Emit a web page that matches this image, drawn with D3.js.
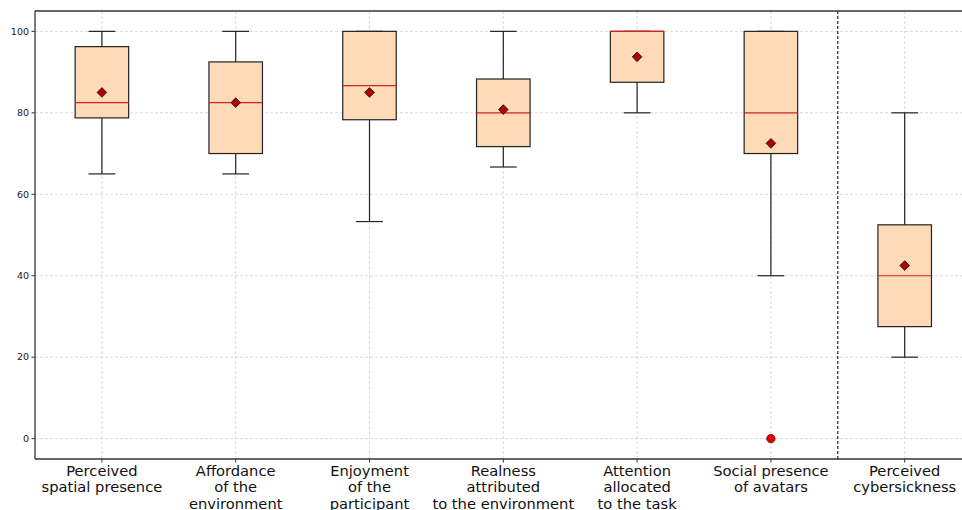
<!DOCTYPE html>
<meta charset="utf-8">
<head>
<style>
  body { margin: 0; background: #fff; }
  svg { font-family: "DejaVu Sans", sans-serif; }
  .grid line { stroke: #d0d0d0; stroke-dasharray: 3,2; stroke-width: 0.8; }
  .ytick text { font-size: 9.5px; fill: #222; }
  .xlab text { font-size: 14.7px; fill: #111; }
</style>
</head>
<body>
<script src="https://d3js.org/d3.v7.min.js"></script>
<script>

// chart values
var categories = [
  ["Perceived", "spatial presence"],
  ["Affordance", "of the", "environment"],
  ["Enjoyment", "of the", "participant"],
  ["Realness", "attributed", "to the environment"],
  ["Attention", "allocated", "to the task"],
  ["Social presence", "of avatars"],
  ["Perceived", "cybersickness"]
];
var whiskerLow  = [65, 65, 53.3, 66.7, 80, 40, 20];
var q1          = [78.75, 70, 78.3, 71.7, 87.5, 70, 27.5];
var medians     = [82.5, 82.5, 86.7, 80, 100, 80, 40];
var q3          = [96.25, 92.5, 100, 88.3, 100, 100, 52.5];
var whiskerHigh = [100, 100, 100, 100, 100, 100, 80];
var means       = [85, 82.5, 85, 80.8, 93.75, 72.5, 42.5];
var outliers    = [[], [], [], [], [], [0], []];
var yTicks      = [0, 20, 40, 60, 80, 100];

var width = 962, height = 510;
var margin = {left: 35, top: 11, bottom: 459};
var unit = 133.8;

var svg = d3.select("body").append("svg")
    .attr("width", width)
    .attr("height", height);

var x = d3.scaleLinear().domain([0.5, 7.5]).range([margin.left, margin.left + 7 * unit]);
var y = d3.scaleLinear().domain([-5, 105]).range([margin.bottom, margin.top]);

var idx = d3.range(categories.length);
var boxW = x(1.2) - x(1);    // half width of a box
var capW = boxW / 2;

// grid
var grid = svg.append("g").attr("class", "grid");
grid.selectAll(".gy").data(yTicks).enter().append("line")
    .attr("x1", margin.left).attr("x2", width)
    .attr("y1", function(d) { return y(d); })
    .attr("y2", function(d) { return y(d); });
grid.selectAll(".gx").data(idx).enter().append("line")
    .attr("x1", function(i) { return x(i + 1); })
    .attr("x2", function(i) { return x(i + 1); })
    .attr("y1", margin.top).attr("y2", margin.bottom);

// separator between questionnaires
svg.append("line")
    .attr("x1", x(6.5)).attr("x2", x(6.5))
    .attr("y1", margin.top).attr("y2", margin.bottom)
    .attr("stroke", "#111")
    .attr("stroke-width", 1.1)
    .attr("stroke-dasharray", "3,2");

var boxes = svg.selectAll(".box").data(idx).enter().append("g").attr("class", "box");

// whiskers
boxes.append("line")
    .attr("x1", function(i) { return x(i + 1); })
    .attr("x2", function(i) { return x(i + 1); })
    .attr("y1", function(i) { return y(whiskerLow[i]); })
    .attr("y2", function(i) { return y(q1[i]); })
    .attr("stroke", "#222").attr("stroke-width", 1.2);
boxes.append("line")
    .attr("x1", function(i) { return x(i + 1); })
    .attr("x2", function(i) { return x(i + 1); })
    .attr("y1", function(i) { return y(q3[i]); })
    .attr("y2", function(i) { return y(whiskerHigh[i]); })
    .attr("stroke", "#222").attr("stroke-width", 1.2);
// caps
[whiskerLow, whiskerHigh].forEach(function(arr) {
  boxes.append("line")
      .attr("x1", function(i) { return x(i + 1) - capW; })
      .attr("x2", function(i) { return x(i + 1) + capW; })
      .attr("y1", function(i) { return y(arr[i]); })
      .attr("y2", function(i) { return y(arr[i]); })
      .attr("stroke", "#222").attr("stroke-width", 1.2);
});

// boxes
boxes.append("rect")
    .attr("x", function(i) { return x(i + 1) - boxW; })
    .attr("y", function(i) { return y(q3[i]); })
    .attr("width", 2 * boxW)
    .attr("height", function(i) { return y(q1[i]) - y(q3[i]); })
    .attr("fill", "#ffdab9")
    .attr("stroke", "#222")
    .attr("stroke-width", 1.2);

// medians
boxes.append("line")
    .attr("x1", function(i) { return x(i + 1) - boxW; })
    .attr("x2", function(i) { return x(i + 1) + boxW; })
    .attr("y1", function(i) { return y(medians[i]); })
    .attr("y2", function(i) { return y(medians[i]); })
    .attr("stroke", "#d62020").attr("stroke-width", 1.2);

// means
boxes.append("path")
    .attr("d", d3.symbol().type(d3.symbolDiamond2).size(60))
    .attr("transform", function(i) { return "translate(" + x(i + 1) + "," + y(means[i]) + ")"; })
    .attr("fill", "#b00000")
    .attr("stroke", "#111")
    .attr("stroke-width", 0.8);

// outliers
boxes.each(function(i) {
  d3.select(this).selectAll(".flier").data(outliers[i]).enter().append("circle")
      .attr("cx", x(i + 1))
      .attr("cy", function(d) { return y(d); })
      .attr("r", 4.2)
      .attr("fill", "#e00000")
      .attr("stroke", "#700")
      .attr("stroke-width", 0.8);
});

// spines
svg.append("line").attr("x1", margin.left).attr("x2", margin.left)
    .attr("y1", margin.top).attr("y2", margin.bottom)
    .attr("stroke", "#333").attr("stroke-width", 1.3);
svg.append("line").attr("x1", margin.left).attr("x2", width)
    .attr("y1", margin.top).attr("y2", margin.top)
    .attr("stroke", "#333").attr("stroke-width", 1.3);
svg.append("line").attr("x1", margin.left).attr("x2", width)
    .attr("y1", margin.bottom).attr("y2", margin.bottom)
    .attr("stroke", "#333").attr("stroke-width", 1.3);

// y ticks
var yt = svg.selectAll(".ytick").data(yTicks).enter().append("g")
    .attr("class", "ytick")
    .attr("transform", function(d) { return "translate(" + margin.left + "," + y(d) + ")"; });
yt.append("line").attr("x1", -3.5).attr("x2", 0).attr("stroke", "#333");
yt.append("text").attr("x", -6).attr("dy", "0.34em").attr("text-anchor", "end")
    .text(function(d) { return d; });

// x ticks + labels
var xl = svg.selectAll(".xlab").data(idx).enter().append("g")
    .attr("class", "xlab")
    .attr("transform", function(i) { return "translate(" + x(i + 1) + "," + margin.bottom + ")"; });
xl.append("line").attr("y1", 0).attr("y2", 3.5).attr("stroke", "#333");
xl.append("text").attr("text-anchor", "middle")
  .selectAll("tspan").data(function(i) { return categories[i]; }).enter().append("tspan")
    .attr("x", 0)
    .attr("y", function(d, k) { return 17 + k * 16.3; })
    .text(function(d) { return d; });

</script>
</body>
